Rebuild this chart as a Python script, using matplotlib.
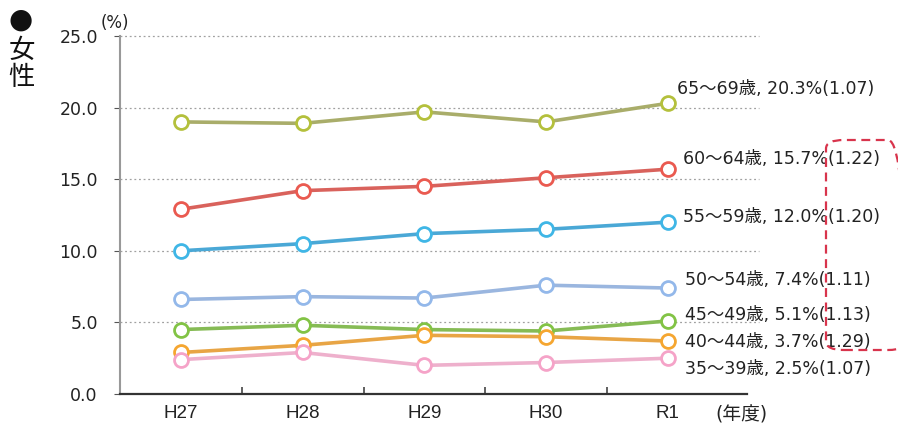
import matplotlib
matplotlib.use("Agg")
import matplotlib.pyplot as plt
from matplotlib.patches import FancyBboxPatch
import numpy as np

plt.rcParams['font.family'] = ['DejaVu Sans', 'Noto Sans CJK JP']

years = ["H27", "H28", "H29", "H30", "R1"]
groups = ["65～69歳", "60～64歳", "55～59歳", "50～54歳", "45～49歳", "40～44歳", "35～39歳"]
rates = [
    [19.0, 18.9, 19.7, 19.0, 20.3],
    [12.9, 14.2, 14.5, 15.1, 15.7],
    [10.0, 10.5, 11.2, 11.5, 12.0],
    [6.6, 6.8, 6.7, 7.6, 7.4],
    [4.5, 4.8, 4.5, 4.4, 5.1],
    [2.9, 3.4, 4.1, 4.0, 3.7],
    [2.4, 2.9, 2.0, 2.2, 2.5],
]
ratios = ["1.07", "1.22", "1.20", "1.11", "1.13", "1.29", "1.07"]

colors = ["#b4c03c", "#ea5a50", "#3fb6e6", "#93b8ea", "#82c345", "#f5a630", "#f5a3c8"]
line_colors = ["#a9ad6a", "#d9625c", "#4aa8d6", "#9ab6df", "#86bb55", "#e8a545", "#eeb0cc"]
# label offsets (points) from the last point
label_dx = [6.5, 11, 11, 12, 12, 12, 12]
label_dy = [10, 7, 4, 6, 4, -1, -8]

fig = plt.figure(figsize=(8.98, 4.30), dpi=100)
ax = fig.add_axes([0.1336, 0.0837, 0.678, 0.8326])

x = np.arange(len(years))
for vals, c, lc in zip(rates, colors, line_colors):
    ax.plot(x, vals, color=lc, lw=2.6, zorder=2)
    ax.plot(x, vals, ls="none", marker="o", ms=10, mfc="white", mec=c, mew=2, zorder=3)

for g, vals, r, dx, dy in zip(groups, rates, ratios, label_dx, label_dy):
    ax.annotate(f"{g}, {vals[-1]:.1f}%({r})", (x[-1], vals[-1]), xytext=(dx, dy),
                textcoords="offset points", fontsize=12.5, va="center", ha="left",
                color="#222222", annotation_clip=False)

ax.set_xlim(-0.5, 4.5)
ax.set_ylim(0, 25)
ax.set_yticks(np.arange(0, 25.1, 5))
ax.set_yticklabels([f"{v:.1f}" for v in np.arange(0, 25.1, 5)], fontsize=12.5, color="#222222")
ax.set_xticks(x)
ax.set_xticklabels(years, fontsize=13.5, color="#222222",
                   family=['Liberation Sans', 'DejaVu Sans'])
ax.set_xticks(np.arange(0.5, 4.0, 1), minor=True)
ax.tick_params(axis="x", which="major", length=0, pad=8)
ax.tick_params(axis="x", which="minor", length=5, width=1.2, color="#444444", direction="in")
ax.tick_params(axis="y", length=4, color="#555555", pad=12)

for v in np.arange(5, 25.1, 5):
    ax.axhline(v, color="#a0a0a0", lw=0.9, ls=(0, (1.5, 2.2)), zorder=1, clip_on=False,
               xmax=1.05)

for s in ["top", "right"]:
    ax.spines[s].set_visible(False)
ax.spines["left"].set_color("#999999")
ax.spines["left"].set_linewidth(1.5)
ax.spines["bottom"].set_color("#333333")
ax.spines["bottom"].set_linewidth(1.6)
ax.spines["bottom"].set_bounds(-0.5, 4.65)

ax.text(-0.66, 25.25, "(%)", fontsize=12, ha="left", va="bottom", color="#222222")
ax.text(4.6, -1.5, "(年度)", fontsize=13.5, ha="center", va="center", color="#222222")

fig.text(0.023, 0.955, "●", fontsize=20, ha="center", va="center", color="#111111")
fig.text(0.024, 0.881, "女", fontsize=19, ha="center", va="center", color="#111111")
fig.text(0.024, 0.819, "性", fontsize=19, ha="center", va="center", color="#111111")

box = FancyBboxPatch((826 / 898, 1 - 350 / 430), 80 / 898, 210 / 430,
                     boxstyle="round,pad=0,rounding_size=0.02", transform=fig.transFigure,
                     fill=False, ec="#d8344c", lw=1.6, ls=(0, (4, 2.5)), clip_on=False)
fig.patches.append(box)

fig.savefig("out.png", dpi=100)
